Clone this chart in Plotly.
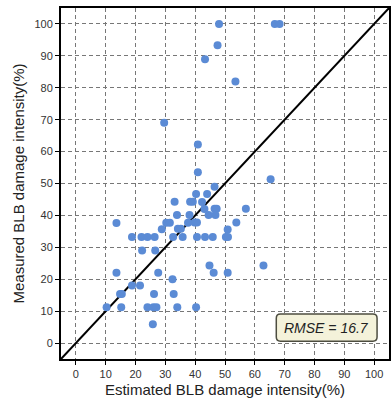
import plotly.graph_objects as go

# Estimated vs measured BLB damage intensity (%) per sample
estimated = [48, 66.7, 68.3, 47.5, 43.3, 53.5, 29.6, 40.9, 40.9, 65.3,
             46.5, 40.3, 44, 33.1, 38.3, 39.2, 42.3, 43.1, 46.5, 47.2,
             57, 33.9, 38.1, 44.5, 46.8, 13.6, 30.3, 31.5, 37.6, 39.8,
             40.6, 53.8, 28.8, 34.2, 35.2, 50.9, 18.8, 22, 24, 26.4,
             32.6, 35.8, 40.6, 43.3, 45.9, 50.3, 51, 22.2, 26.6, 44.8,
             62.9, 13.6, 27.6, 46.2, 50.9, 32.4, 18.8, 21.5, 14.8, 15.4,
             26.2, 32.8, 10.3, 15.2, 24, 26, 27, 34, 40.3, 25.8]
measured = [100, 100, 100, 93.3, 88.9, 82, 69, 62.2, 53.5, 51.3,
            49, 46.7, 46.7, 44.3, 44.3, 44.3, 44.2, 42, 42.1, 42.1,
            42.1, 40.1, 40.1, 40.1, 40.1, 37.6, 37.7, 37.7, 37.7, 37.8,
            37.8, 37.8, 35.7, 35.8, 35.8, 35.6, 33.2, 33.2, 33.2, 33.2,
            33.2, 33.2, 33.2, 33.2, 33.2, 33.2, 33.2, 29, 29, 24.3,
            24.3, 22, 22, 22, 22, 20, 18, 18, 15.4, 15.4,
            15.4, 15.4, 11.2, 11.2, 11.2, 11.2, 11.2, 11.2, 11.2, 5.9]

# 1:1 reference line and axis settings
one_to_one = [-5, 105]
tick_values = list(range(0, 101, 10))
rmse_label = "RMSE = 16.7"

FONT = "Liberation Sans, Arial"

fig = go.Figure()
fig.add_trace(go.Scatter(
    x=one_to_one, y=one_to_one, mode="lines",
    line=dict(color="black", width=2), hoverinfo="skip", showlegend=False))
fig.add_trace(go.Scatter(
    x=estimated, y=measured, mode="markers",
    marker=dict(color="#5b8bd5", size=8, line=dict(width=0)),
    showlegend=False))

# Rounded label box for the RMSE
x0, x1, y0, y1 = 67.2, 101.0, 0.6, 9.1
rx, ry = 1.4, 1.3
path = (f"M {x0+rx},{y0} L {x1-rx},{y0} Q {x1},{y0} {x1},{y0+ry} "
        f"L {x1},{y1-ry} Q {x1},{y1} {x1-rx},{y1} "
        f"L {x0+rx},{y1} Q {x0},{y1} {x0},{y1-ry} "
        f"L {x0},{y0+ry} Q {x0},{y0} {x0+rx},{y0} Z")
fig.add_shape(type="path", path=path, xref="x", yref="y",
              fillcolor="#f4f2da", line=dict(color="#4d4d40", width=1.5))
fig.add_annotation(x=(x0 + x1) / 2, y=(y0 + y1) / 2, xref="x", yref="y",
                   text=f"<i>{rmse_label}</i>", showarrow=False,
                   font=dict(family=FONT, size=14, color="#222"))

axis_common = dict(
    tickvals=tick_values, showgrid=True, gridcolor="#777777", gridwidth=1,
    griddash="4px,3px", zeroline=False, showline=True, linecolor="black",
    mirror=True, ticks="outside", ticklen=4, tickcolor="black",
    tickfont=dict(family=FONT, size=11, color="#333"),
)

fig.update_xaxes(range=[-5, 105], linewidth=1.5,
                 title=dict(text="Estimated BLB damage intensity(%)",
                            font=dict(family=FONT, size=15, color="#222"),
                            standoff=6),
                 **axis_common)
fig.update_yaxes(range=[-5, 105], linewidth=2,
                 title=dict(text="Measured BLB damage intensity(%)",
                            font=dict(family=FONT, size=15, color="#222"),
                            standoff=6),
                 **axis_common)

fig.update_layout(
    width=391, height=401,
    margin=dict(l=61, r=0, t=8, b=42),
    plot_bgcolor="white", paper_bgcolor="white",
)

fig.write_html("out.html")
